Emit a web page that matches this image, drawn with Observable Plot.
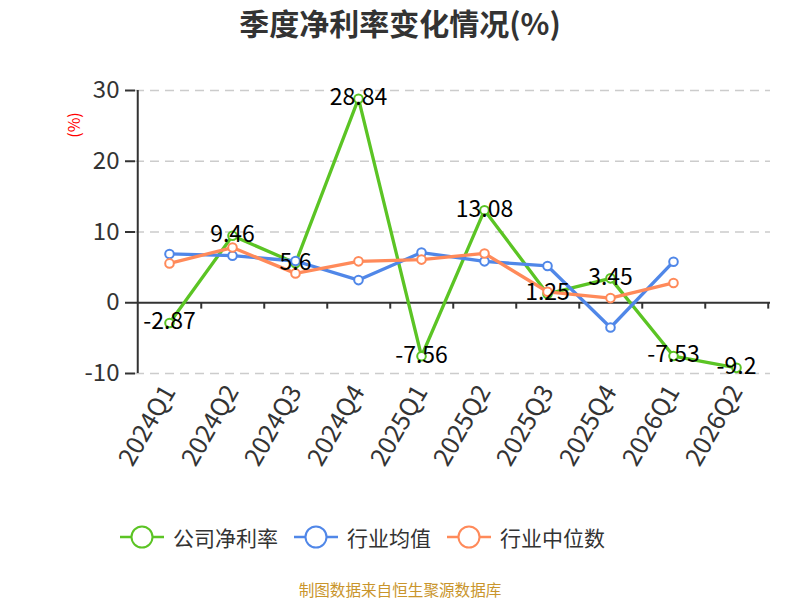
<!DOCTYPE html>
<html>
<head>
<meta charset="utf-8">
<script src="https://cdn.jsdelivr.net/npm/d3@7"></script>
<script src="https://cdn.jsdelivr.net/npm/@observablehq/plot@0.6"></script>
<style>
  html, body { margin: 0; padding: 0; background: #fff; }
  #wrap { position: relative; width: 800px; height: 600px; overflow: hidden; font-family: "Noto Sans CJK SC", "Noto Sans", sans-serif; }
  #title { position: absolute; left: 0; top: 2px; width: 800px; text-align: center; font-size: 30px; font-weight: bold; color: #333; line-height: 40px; }
  #unit { position: absolute; left: 73px; top: 125px; transform: translate(-50%, -50%) rotate(-90deg); color: #f00; font-size: 16px; white-space: nowrap; line-height: 20px; }
  #chart { position: absolute; left: 0; top: 0; }
  #legend { position: absolute; left: 120px; top: 522px; display: flex; align-items: center; font-size: 21px; color: #333; line-height: 30px; }
  .item { display: flex; align-items: center; margin-right: 16px; }
  .item svg { margin-right: 9px; }
  #caption { position: absolute; left: 0; top: 578px; width: 800px; text-align: center; font-size: 15.6px; color: #c9952c; line-height: 22px; }
</style>
</head>
<body>
<div id="wrap">
  <div id="chart"></div>
  <div id="title">季度净利率变化情况(%)</div>
  <div id="unit">(%)</div>
  <div id="legend"></div>
  <div id="caption">制图数据来自恒生聚源数据库</div>
</div>
<script>
const quarters = ["2024Q1","2024Q2","2024Q3","2024Q4","2025Q1","2025Q2","2025Q3","2025Q4","2026Q1","2026Q2"];
const companyNetMargin = [-2.87, 9.46, 5.6, 28.84, -7.56, 13.08, 1.25, 3.45, -7.53, -9.2];
const industryAverage = [6.9, 6.65, 5.9, 3.2, 7.1, 5.85, 5.2, -3.5, 5.8];
const industryMedian = [5.56, 7.8, 4.15, 5.85, 6.1, 6.97, 1.55, 0.66, 2.8];
const yTicks = [-10, 0, 10, 20, 30];
const seriesNames = ["公司净利率", "行业均值", "行业中位数"];
const seriesColors = ["#5bc424", "#5087e8", "#ff8a5a"];

const toRows = (vals) => vals.map((v, i) => ({q: quarters[i], v}));
const rowsCompany = toRows(companyNetMargin);
const rowsAvg = toRows(industryAverage);
const rowsMed = toRows(industryMedian);

const W = 800, H = 500, mL = 135, mR = 30, mT = 90, mB = 127;
const step = (W - mL - mR) / quarters.length;
const font = "Noto Sans CJK SC";

const lineSeries = (rows, color) => [
  Plot.line(rows, {x: "q", y: "v", stroke: color, strokeWidth: 3.3}),
  Plot.dot(rows, {x: "q", y: "v", r: 4.3, fill: "#fff", stroke: color, strokeWidth: 2})
];

const chart = Plot.plot({
  width: W, height: H,
  marginLeft: mL, marginRight: mR, marginTop: mT, marginBottom: mB,
  style: {fontFamily: font, background: "transparent", overflow: "visible"},
  x: {type: "point", domain: quarters, padding: 0.5, align: 0.5},
  y: {domain: [-10, 30]},
  marks: [
    Plot.ruleY(yTicks.filter(d => d !== 0), {stroke: "#cccccc", strokeWidth: 1.5, strokeDasharray: "9,6"}),
    Plot.axisY(yTicks, {tickSize: 10, tickPadding: 6, strokeWidth: 2, stroke: "#333", fontSize: 24, fill: "#333", label: null, tickFormat: d => String(d)}),
    Plot.axisX({tickRotate: -60, tickSize: 0, tickPadding: 14, fontSize: 25, fill: "#333", label: null}),
    Plot.ruleX([quarters[0]], {x: d => d, y1: -10, y2: 30, dx: -step / 2, stroke: "#333", strokeWidth: 2}),
    Plot.ruleX(quarters, {x: d => d, y1: 0, y2: -0.9, dx: step / 2, stroke: "#333", strokeWidth: 2}),
    Plot.ruleY([0], {stroke: "#333", strokeWidth: 2}),
    ...lineSeries(rowsCompany, seriesColors[0]),
    ...lineSeries(rowsAvg, seriesColors[1]),
    ...lineSeries(rowsMed, seriesColors[2]),
    Plot.text(rowsCompany, {x: "q", y: "v", text: d => String(d.v), fontSize: 23, fill: "#000", dy: -1, fontFamily: font})
  ]
});
document.getElementById("chart").appendChild(chart);

const legend = document.getElementById("legend");
seriesNames.forEach((name, i) => {
  const item = document.createElement("div");
  item.className = "item";
  item.innerHTML = `<svg width="44" height="26" viewBox="0 0 44 26"><line x1="0" y1="13" x2="44" y2="13" stroke="${seriesColors[i]}" stroke-width="2.5"/><circle cx="22" cy="13" r="10.5" fill="#fff" stroke="${seriesColors[i]}" stroke-width="2"/></svg><span>${name}</span>`;
  legend.appendChild(item);
});
</script>
</body>
</html>
